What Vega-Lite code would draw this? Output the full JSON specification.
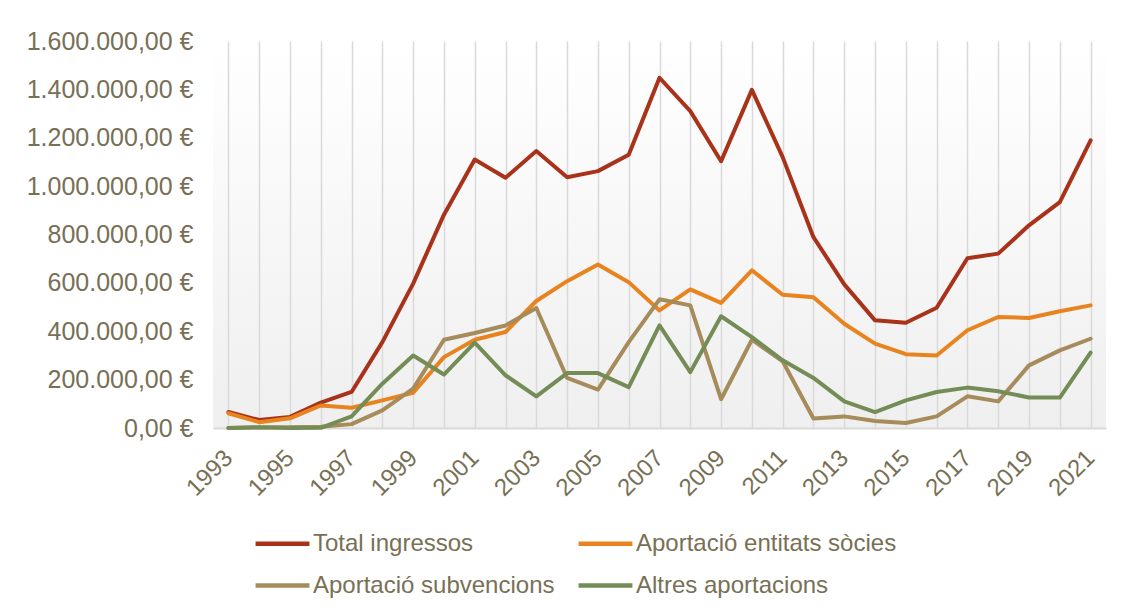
{
  "$schema": "https://vega.github.io/schema/vega-lite/v6.json",
  "autosize": "none",
  "width": 893,
  "height": 387,
  "padding": {"left": 213, "top": 41, "right": 17, "bottom": 183},
  "background": "#ffffff",
  "config": {
    "view": {"stroke": null, "fill": {"gradient": "linear", "x1": 0, "y1": 0, "x2": 0, "y2": 1, "stops": [{"offset": 0, "color": "#ffffff"}, {"offset": 1, "color": "#efefef"}]}},
    "font": "Liberation Sans"
  },
  "data": {"values": [
    {"year": 1993, "serie": "Total ingressos", "value": 66000},
    {"year": 1994, "serie": "Total ingressos", "value": 33000},
    {"year": 1995, "serie": "Total ingressos", "value": 46000},
    {"year": 1996, "serie": "Total ingressos", "value": 105000},
    {"year": 1997, "serie": "Total ingressos", "value": 149000},
    {"year": 1998, "serie": "Total ingressos", "value": 355000},
    {"year": 1999, "serie": "Total ingressos", "value": 597000},
    {"year": 2000, "serie": "Total ingressos", "value": 882000},
    {"year": 2001, "serie": "Total ingressos", "value": 1110000},
    {"year": 2002, "serie": "Total ingressos", "value": 1035000},
    {"year": 2003, "serie": "Total ingressos", "value": 1145000},
    {"year": 2004, "serie": "Total ingressos", "value": 1037000},
    {"year": 2005, "serie": "Total ingressos", "value": 1062000},
    {"year": 2006, "serie": "Total ingressos", "value": 1130000},
    {"year": 2007, "serie": "Total ingressos", "value": 1448000},
    {"year": 2008, "serie": "Total ingressos", "value": 1310000},
    {"year": 2009, "serie": "Total ingressos", "value": 1103000},
    {"year": 2010, "serie": "Total ingressos", "value": 1398000},
    {"year": 2011, "serie": "Total ingressos", "value": 1120000},
    {"year": 2012, "serie": "Total ingressos", "value": 789000},
    {"year": 2013, "serie": "Total ingressos", "value": 594000},
    {"year": 2014, "serie": "Total ingressos", "value": 445000},
    {"year": 2015, "serie": "Total ingressos", "value": 435000},
    {"year": 2016, "serie": "Total ingressos", "value": 497000},
    {"year": 2017, "serie": "Total ingressos", "value": 702000},
    {"year": 2018, "serie": "Total ingressos", "value": 721000},
    {"year": 2019, "serie": "Total ingressos", "value": 838000},
    {"year": 2020, "serie": "Total ingressos", "value": 934000},
    {"year": 2021, "serie": "Total ingressos", "value": 1189000},
    {"year": 1993, "serie": "Aportació entitats sòcies", "value": 61000},
    {"year": 1994, "serie": "Aportació entitats sòcies", "value": 24000},
    {"year": 1995, "serie": "Aportació entitats sòcies", "value": 40000},
    {"year": 1996, "serie": "Aportació entitats sòcies", "value": 93000},
    {"year": 1997, "serie": "Aportació entitats sòcies", "value": 84000},
    {"year": 1998, "serie": "Aportació entitats sòcies", "value": 114000},
    {"year": 1999, "serie": "Aportació entitats sòcies", "value": 146000},
    {"year": 2000, "serie": "Aportació entitats sòcies", "value": 293000},
    {"year": 2001, "serie": "Aportació entitats sòcies", "value": 365000},
    {"year": 2002, "serie": "Aportació entitats sòcies", "value": 397000},
    {"year": 2003, "serie": "Aportació entitats sòcies", "value": 525000},
    {"year": 2004, "serie": "Aportació entitats sòcies", "value": 607000},
    {"year": 2005, "serie": "Aportació entitats sòcies", "value": 676000},
    {"year": 2006, "serie": "Aportació entitats sòcies", "value": 603000},
    {"year": 2007, "serie": "Aportació entitats sòcies", "value": 486000},
    {"year": 2008, "serie": "Aportació entitats sòcies", "value": 573000},
    {"year": 2009, "serie": "Aportació entitats sòcies", "value": 517000},
    {"year": 2010, "serie": "Aportació entitats sòcies", "value": 652000},
    {"year": 2011, "serie": "Aportació entitats sòcies", "value": 551000},
    {"year": 2012, "serie": "Aportació entitats sòcies", "value": 541000},
    {"year": 2013, "serie": "Aportació entitats sòcies", "value": 431000},
    {"year": 2014, "serie": "Aportació entitats sòcies", "value": 349000},
    {"year": 2015, "serie": "Aportació entitats sòcies", "value": 305000},
    {"year": 2016, "serie": "Aportació entitats sòcies", "value": 300000},
    {"year": 2017, "serie": "Aportació entitats sòcies", "value": 404000},
    {"year": 2018, "serie": "Aportació entitats sòcies", "value": 459000},
    {"year": 2019, "serie": "Aportació entitats sòcies", "value": 455000},
    {"year": 2020, "serie": "Aportació entitats sòcies", "value": 483000},
    {"year": 2021, "serie": "Aportació entitats sòcies", "value": 507000},
    {"year": 1993, "serie": "Aportació subvencions", "value": 0},
    {"year": 1994, "serie": "Aportació subvencions", "value": 2000},
    {"year": 1995, "serie": "Aportació subvencions", "value": 3000},
    {"year": 1996, "serie": "Aportació subvencions", "value": 5000},
    {"year": 1997, "serie": "Aportació subvencions", "value": 16000},
    {"year": 1998, "serie": "Aportació subvencions", "value": 73000},
    {"year": 1999, "serie": "Aportació subvencions", "value": 163000},
    {"year": 2000, "serie": "Aportació subvencions", "value": 365000},
    {"year": 2001, "serie": "Aportació subvencions", "value": 393000},
    {"year": 2002, "serie": "Aportació subvencions", "value": 424000},
    {"year": 2003, "serie": "Aportació subvencions", "value": 496000},
    {"year": 2004, "serie": "Aportació subvencions", "value": 207000},
    {"year": 2005, "serie": "Aportació subvencions", "value": 159000},
    {"year": 2006, "serie": "Aportació subvencions", "value": 355000},
    {"year": 2007, "serie": "Aportació subvencions", "value": 532000},
    {"year": 2008, "serie": "Aportació subvencions", "value": 507000},
    {"year": 2009, "serie": "Aportació subvencions", "value": 119000},
    {"year": 2010, "serie": "Aportació subvencions", "value": 365000},
    {"year": 2011, "serie": "Aportació subvencions", "value": 276000},
    {"year": 2012, "serie": "Aportació subvencions", "value": 39000},
    {"year": 2013, "serie": "Aportació subvencions", "value": 48000},
    {"year": 2014, "serie": "Aportació subvencions", "value": 29000},
    {"year": 2015, "serie": "Aportació subvencions", "value": 21000},
    {"year": 2016, "serie": "Aportació subvencions", "value": 48000},
    {"year": 2017, "serie": "Aportació subvencions", "value": 131000},
    {"year": 2018, "serie": "Aportació subvencions", "value": 110000},
    {"year": 2019, "serie": "Aportació subvencions", "value": 259000},
    {"year": 2020, "serie": "Aportació subvencions", "value": 321000},
    {"year": 2021, "serie": "Aportació subvencions", "value": 369000},
    {"year": 1993, "serie": "Altres aportacions", "value": 0},
    {"year": 1994, "serie": "Altres aportacions", "value": 3000},
    {"year": 1995, "serie": "Altres aportacions", "value": 0},
    {"year": 1996, "serie": "Altres aportacions", "value": 1000},
    {"year": 1997, "serie": "Altres aportacions", "value": 48000},
    {"year": 1998, "serie": "Altres aportacions", "value": 183000},
    {"year": 1999, "serie": "Altres aportacions", "value": 300000},
    {"year": 2000, "serie": "Altres aportacions", "value": 221000},
    {"year": 2001, "serie": "Altres aportacions", "value": 353000},
    {"year": 2002, "serie": "Altres aportacions", "value": 218000},
    {"year": 2003, "serie": "Altres aportacions", "value": 131000},
    {"year": 2004, "serie": "Altres aportacions", "value": 227000},
    {"year": 2005, "serie": "Altres aportacions", "value": 227000},
    {"year": 2006, "serie": "Altres aportacions", "value": 169000},
    {"year": 2007, "serie": "Altres aportacions", "value": 424000},
    {"year": 2008, "serie": "Altres aportacions", "value": 231000},
    {"year": 2009, "serie": "Altres aportacions", "value": 462000},
    {"year": 2010, "serie": "Altres aportacions", "value": 376000},
    {"year": 2011, "serie": "Altres aportacions", "value": 280000},
    {"year": 2012, "serie": "Altres aportacions", "value": 207000},
    {"year": 2013, "serie": "Altres aportacions", "value": 110000},
    {"year": 2014, "serie": "Altres aportacions", "value": 66000},
    {"year": 2015, "serie": "Altres aportacions", "value": 114000},
    {"year": 2016, "serie": "Altres aportacions", "value": 149000},
    {"year": 2017, "serie": "Altres aportacions", "value": 167000},
    {"year": 2018, "serie": "Altres aportacions", "value": 152000},
    {"year": 2019, "serie": "Altres aportacions", "value": 126000},
    {"year": 2020, "serie": "Altres aportacions", "value": 126000},
    {"year": 2021, "serie": "Altres aportacions", "value": 312000}
  ]},
  "mark": {"type": "line", "strokeWidth": 4, "strokeJoin": "round", "strokeCap": "round"},
  "encoding": {
    "x": {
      "field": "year", "type": "ordinal", "title": null,
      "scale": {"type": "point", "padding": 0.5},
      "axis": {
        "grid": true, "gridColor": "#d9d9d9", "gridWidth": 1.5,
        "ticks": false, "domainColor": "#d9d9d9", "domainWidth": 2,
        "labelAngle": -45, "labelAlign": "right", "labelBaseline": "middle",
        "labelPadding": 26, "labelFontSize": 24, "labelColor": "#787055",
        "labelExpr": "datum.value % 2 == 1 ? datum.label : ''"
      }
    },
    "y": {
      "field": "value", "type": "quantitative", "title": null,
      "scale": {"domain": [0, 1600000], "nice": false},
      "axis": {
        "values": [0, 200000, 400000, 600000, 800000, 1000000, 1200000, 1400000, 1600000],
        "grid": false, "ticks": false, "domain": false,
        "labelPadding": 20, "labelFontSize": 25, "labelColor": "#787055",
        "labelExpr": "replace(replace(replace(format(datum.value, ',.2f'), regexp(',', 'g'), '#'), regexp('\\\\.', 'g'), ','), regexp('#', 'g'), '.') + ' €'"
      }
    },
    "color": {
      "field": "serie", "type": "nominal", "title": null,
      "scale": {
        "domain": ["Total ingressos", "Aportació entitats sòcies", "Aportació subvencions", "Altres aportacions"],
        "range": ["#a8321a", "#e8841f", "#a68b5b", "#748c55"]
      },
      "legend": {
        "orient": "none", "legendX": 40, "legendY": 473, "columns": 2, "direction": "horizontal",
        "symbolType": "stroke", "symbolSize": 2900, "symbolStrokeWidth": 4.5,
        "labelFontSize": 24, "labelColor": "#787055", "labelOffset": 1,
        "columnPadding": 14, "rowPadding": -12, "labelLimit": 400
      }
    }
  }
}
